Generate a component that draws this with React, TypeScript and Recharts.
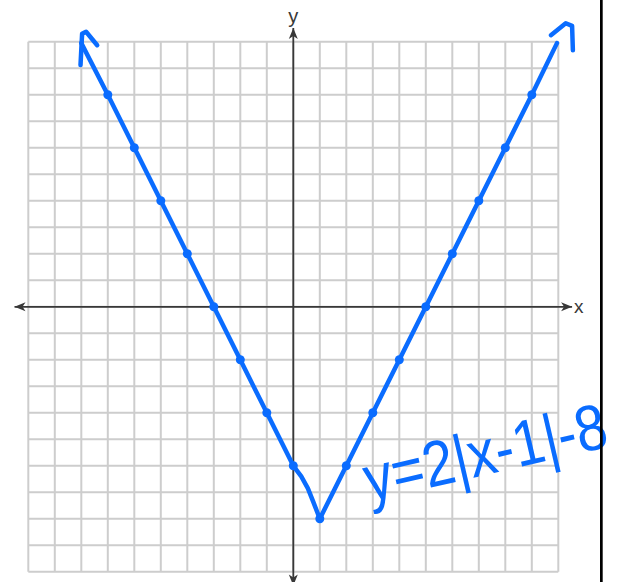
import React from 'react';
import { LineChart, Line, XAxis, YAxis, ReferenceLine, Customized } from 'recharts';

const BLUE = '#0a6cff';
const GRID_COLOR = '#cdcdcd';
const AXIS_COLOR = '#383838';

// graph paper runs from -10 to 10 on both axes
const gridSteps = [-10, -9, -8, -7, -6, -5, -4, -3, -2, -1, 0, 1, 2, 3, 4, 5, 6, 7, 8, 9, 10];
const gridLimits = [-10, 10];
const axisLimits = [-10.52, 10.52];

// plotted points of y = 2|x-1| - 8
const plotted = [
  { x: -7, y: 8 },
  { x: -6, y: 6 },
  { x: -5, y: 4 },
  { x: -4, y: 2 },
  { x: -3, y: 0 },
  { x: -2, y: -2 },
  { x: -1, y: -4 },
  { x: 0, y: -6 },
  { x: 1, y: -8 },
  { x: 2, y: -6 },
  { x: 3, y: -4 },
  { x: 4, y: -2 },
  { x: 5, y: 0 },
  { x: 6, y: 2 },
  { x: 7, y: 4 },
  { x: 8, y: 6 },
  { x: 9, y: 8 },
];

// the freehand stroke through the points
const stroke = [
  { x: -8.0, y: 9.95 },
  { x: -7, y: 8 },
  { x: -6, y: 6 },
  { x: -5, y: 4 },
  { x: -4, y: 2 },
  { x: -3, y: 0 },
  { x: -2, y: -2 },
  { x: -1, y: -4 },
  { x: 0, y: -6 },
  { x: 0.3, y: -6.4 },
  { x: 0.55, y: -6.85 },
  { x: 0.75, y: -7.35 },
  { x: 1, y: -8 },
  { x: 2, y: -6 },
  { x: 3, y: -4 },
  { x: 4, y: -2 },
  { x: 5, y: 0 },
  { x: 6, y: 2 },
  { x: 7, y: 4 },
  { x: 8, y: 6 },
  { x: 9, y: 8 },
  { x: 9.95, y: 9.95 },
];

const leftArrow = [
  { x: -8.03, y: 9.12 },
  { x: -7.97, y: 10.3 },
  { x: -7.82, y: 10.38 },
  { x: -7.4, y: 9.87 },
];

const rightArrow = [
  { x: 9.72, y: 10.25 },
  { x: 10.28, y: 10.7 },
  { x: 10.52, y: 10.6 },
  { x: 10.55, y: 9.68 },
];

const X_DOMAIN = [-11.068, 12.328];
const Y_DOMAIN = [-10.385, 11.577];

const arrowHead = (tx: number, ty: number, ux: number, uy: number) => {
  const nx = -uy;
  const ny = ux;
  const bx = tx - ux * 11;
  const by = ty - uy * 11;
  const mx = tx - ux * 8;
  const my = ty - uy * 8;
  return `${tx},${ty} ${bx + nx * 4.5},${by + ny * 4.5} ${mx},${my} ${bx - nx * 4.5},${by - ny * 4.5}`;
};

const AxisArrow = (props: any) => {
  const { x1, y1, x2, y2, name } = props;
  const len = Math.hypot(x2 - x1, y2 - y1) || 1;
  const ux = (x2 - x1) / len;
  const uy = (y2 - y1) / len;
  return (
    <g>
      <line x1={x1} y1={y1} x2={x2} y2={y2} stroke={AXIS_COLOR} strokeWidth={1.8} />
      <polygon points={arrowHead(x2, y2, ux, uy)} fill={AXIS_COLOR} />
      <polygon points={arrowHead(x1, y1, -ux, -uy)} fill={AXIS_COLOR} />
      {name === 'x' ? (
        <text x={x2 + 2} y={y2 + 6.5} fontSize={19} fill={AXIS_COLOR} fontFamily="Liberation Sans, Arial, sans-serif">
          x
        </text>
      ) : (
        <text x={x2} y={y2 - 5.5} fontSize={20} fill={AXIS_COLOR} textAnchor="middle" fontFamily="Liberation Sans, Arial, sans-serif">
          y
        </text>
      )}
    </g>
  );
};

const Notes = () => (
  <g>
    <g transform="translate(490 474) rotate(-13) scale(0.93 1.08)">
      <text x={0} y={0} textAnchor="middle" fontSize={60} fill={BLUE} fontFamily="Liberation Sans, Arial, sans-serif">
        y=2|x-1|-8
      </text>
    </g>
    <rect x={600} y={0} width={2.7} height={582} fill="#000" />
  </g>
);

const App: React.FC = () => {
  return (
    <div style={{ position: 'absolute', left: 0, top: 0, background: '#fff' }}>
      <LineChart width={620} height={582} margin={{ top: 0, right: 0, bottom: 0, left: 0 }}>
        <XAxis type="number" dataKey="x" domain={X_DOMAIN} allowDataOverflow hide />
        <YAxis type="number" dataKey="y" domain={Y_DOMAIN} allowDataOverflow hide />

        {/* graph paper */}
        {gridSteps.map(k => (
          <ReferenceLine
            key={`v${k}`}
            segment={[{ x: k, y: gridLimits[0] }, { x: k, y: gridLimits[1] }]}
            stroke={GRID_COLOR}
            strokeWidth={2}
            ifOverflow="visible"
            zIndex={-60}
          />
        ))}
        {gridSteps.map(k => (
          <ReferenceLine
            key={`h${k}`}
            segment={[{ x: gridLimits[0], y: k }, { x: gridLimits[1], y: k }]}
            stroke={GRID_COLOR}
            strokeWidth={2}
            ifOverflow="visible"
            zIndex={-60}
          />
        ))}

        {/* axes with arrows */}
        <ReferenceLine
          segment={[{ x: axisLimits[0], y: 0 }, { x: axisLimits[1], y: 0 }]}
          ifOverflow="visible"
          zIndex={-50}
          shape={(p: any) => <AxisArrow {...p} name="x" />}
        />
        <ReferenceLine
          segment={[{ x: 0, y: axisLimits[0] }, { x: 0, y: axisLimits[1] }]}
          ifOverflow="visible"
          zIndex={-50}
          shape={(p: any) => <AxisArrow {...p} name="y" />}
        />

        <Line
          data={stroke}
          dataKey="y"
          type="linear"
          stroke={BLUE}
          strokeWidth={4.5}
          strokeLinecap="round"
          strokeLinejoin="round"
          dot={false}
          activeDot={false}
          isAnimationActive={false}
        />
        <Line
          data={leftArrow}
          dataKey="y"
          type="linear"
          stroke={BLUE}
          strokeWidth={4.5}
          strokeLinecap="round"
          strokeLinejoin="round"
          dot={false}
          activeDot={false}
          isAnimationActive={false}
        />
        <Line
          data={rightArrow}
          dataKey="y"
          type="linear"
          stroke={BLUE}
          strokeWidth={4.5}
          strokeLinecap="round"
          strokeLinejoin="round"
          dot={false}
          activeDot={false}
          isAnimationActive={false}
        />
        <Line
          data={plotted}
          dataKey="y"
          stroke="none"
          dot={{ r: 4.5, fill: BLUE, stroke: BLUE, strokeWidth: 0 }}
          activeDot={false}
          isAnimationActive={false}
        />

        <Customized component={Notes} />
      </LineChart>
    </div>
  );
};

export default App;
